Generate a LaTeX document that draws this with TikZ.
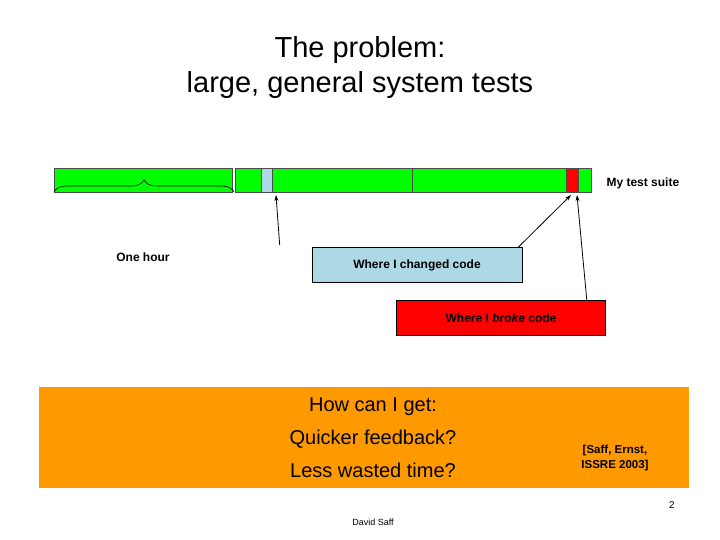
\documentclass[tikz,border=0pt]{standalone}
\usepackage{fontspec}
\setmainfont{Liberation Sans}
\usetikzlibrary{decorations.pathreplacing,arrows.meta}
\definecolor{bargreen}{RGB}{0,255,0}
\definecolor{lblue}{RGB}{173,216,230}
\definecolor{borange}{RGB}{255,153,0}
\begin{document}
\begin{tikzpicture}[x=1pt,y=-1pt,
  seg/.style={draw=black!70,line width=0.5pt},
  lbl/.style={draw=black,line width=0.6pt,font=\fontsize{12}{14}\selectfont,inner sep=0pt},
  arr/.style={-{Stealth[length=6pt,width=4pt]},line width=0.8pt}]
\useasboundingbox[fill=white] (0,0) rectangle (720,540);
\node (title) at (360,68) {\fontsize{29}{35}\selectfont\begin{tabular}{c}The problem:\\large, general system tests\end{tabular}};
\fill[seg,fill=bargreen] (54,168) rectangle (232,192);
\fill[seg,fill=bargreen] (235,168) rectangle (261,192);
\fill[seg,fill=lblue] (261,168) rectangle (272,192);
\fill[seg,fill=bargreen] (272,168) rectangle (412,192);
\fill[seg,fill=bargreen] (412,168) rectangle (566,192);
\fill[seg,fill=red] (566,168) rectangle (578,192);
\fill[seg,fill=bargreen] (578,168) rectangle (591,192);
\coordinate (blue) at (276,195);
\coordinate (red1) at (571,195);
\coordinate (red2) at (577,195);
\node[anchor=west,font=\fontsize{12}{14}\selectfont\bfseries] (suite) at (603,183) {My test suite};
\draw[decorate,decoration={brace,amplitude=12pt,mirror,raise=1pt},line width=0.6pt] (234,193) -- (54,193);
\node[font=\fontsize{12}{14}\selectfont\bfseries] (hour) at (143,257) {One hour};
\node[lbl,fill=lblue,minimum width=210pt,minimum height=35pt] (chg) at (417,265) {\textbf{Where I changed code}};
\node[lbl,fill=red,minimum width=209pt,minimum height=35pt] (brk) at (501,318) {\textbf{Where I \textit{broke} code}};
\draw[arr] (chg.north west)++(-32,-2) coordinate (c0) -- (blue);
\draw[arr] ([xshift=-4pt]chg.north east) -- (red1);
\draw[arr] ([xshift=-19pt]brk.north east) -- (red2);
\fill[borange] (39,387) rectangle (689,488);
\node (q) at (373,438) {\fontsize{20}{33}\selectfont\begin{tabular}{c}How can I get:\\Quicker feedback?\\Less wasted time?\end{tabular}};
\node[font=\fontsize{11.5}{15}\selectfont\bfseries,align=center] (cite) at (615,458) {[Saff, Ernst,\\ ISSRE 2003]};
\node[font=\fontsize{10}{12}\selectfont] (pg) at (672,505) {2};
\node[font=\fontsize{9}{11}\selectfont] (auth) at (373,522) {David Saff};
\end{tikzpicture}
\end{document}
